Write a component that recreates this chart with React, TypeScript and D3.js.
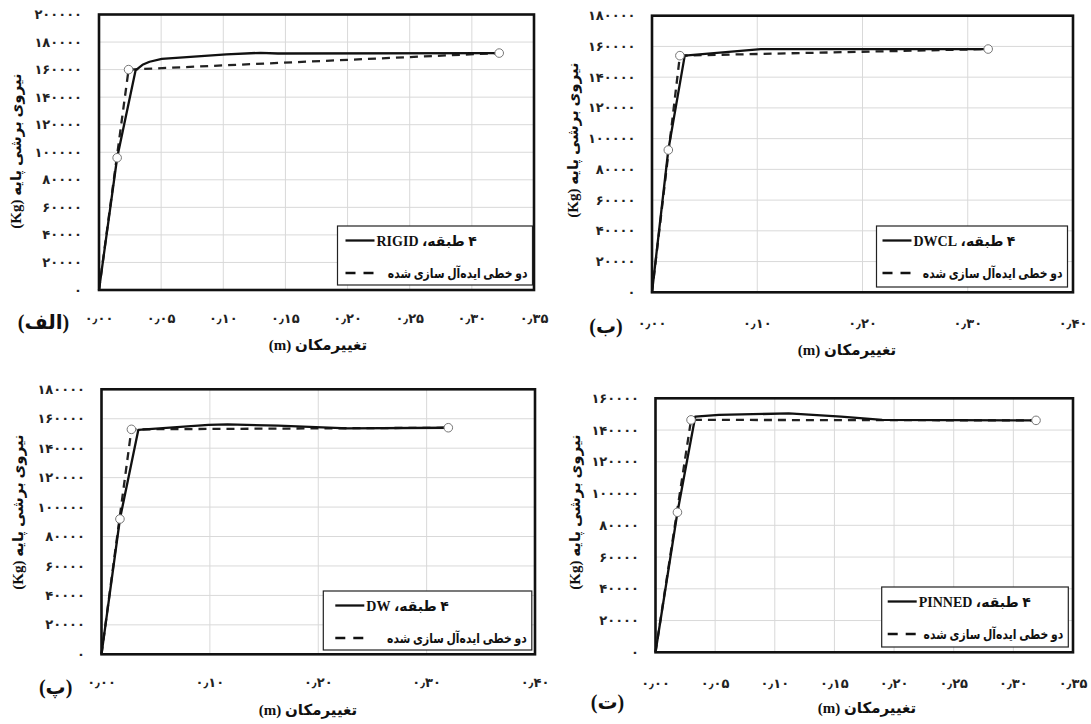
import React from "react";
import * as d3 from "d3";

// ---------- DATA ----------
const rigidCurveX = [0, 0.0146, 0.0294, 0.035, 0.0407, 0.0505, 0.1024, 0.13, 0.144, 0.322];
const rigidCurveY = [0, 96000, 159400, 163500, 165700, 167800, 171000, 172200, 171700, 172000];
const rigidBilinX = [0, 0.0238, 0.322];
const rigidBilinY = [0, 160000, 172000];
const rigidMarkX = [0.0146, 0.0238, 0.322];
const rigidMarkY = [96000, 160000, 172000];

const dwclCurveX = [0, 0.0155, 0.0311, 0.1034, 0.153, 0.3194];
const dwclCurveY = [0, 92600, 154000, 158300, 158300, 158300];
const dwclBilinX = [0, 0.0265, 0.3194];
const dwclBilinY = [0, 154000, 158300];
const dwclMarkX = [0.0155, 0.0265, 0.3194];
const dwclMarkY = [92600, 154000, 158300];

const dwCurveX = [0, 0.017, 0.034, 0.0988, 0.1163, 0.163, 0.227, 0.32];
const dwCurveY = [0, 91900, 152500, 155800, 156200, 155300, 153500, 153900];
const dwBilinX = [0, 0.0276, 0.32];
const dwBilinY = [0, 152800, 153900];
const dwMarkX = [0.017, 0.0276, 0.32];
const dwMarkY = [91900, 152800, 153900];

const pinCurveX = [0, 0.0184, 0.0333, 0.0532, 0.1117, 0.1556, 0.19, 0.319];
const pinCurveY = [0, 88200, 148400, 149500, 150500, 148400, 146400, 146100];
const pinBilinX = [0, 0.0298, 0.319];
const pinBilinY = [0, 146400, 146100];
const pinMarkX = [0.0184, 0.0298, 0.319];
const pinMarkY = [88200, 146400, 146100];

const xTicksA = [0, 0.05, 0.1, 0.15, 0.2, 0.25, 0.3, 0.35];
const xTicksB = [0, 0.1, 0.2, 0.3, 0.4];
const yTicks200 = [0, 20000, 40000, 60000, 80000, 100000, 120000, 140000, 160000, 180000, 200000];
const yTicks180 = [0, 20000, 40000, 60000, 80000, 100000, 120000, 140000, 160000, 180000];
const yTicks160 = [0, 20000, 40000, 60000, 80000, 100000, 120000, 140000, 160000];

const panelLabels = ["(الف)", "(ب)", "(پ)", "(ت)"];
const seriesNames = ["۴ طبقه، RIGID", "۴ طبقه، DWCL", "۴ طبقه، DW", "۴ طبقه، PINNED"];
const bilinName = "دو خطی ایده‌آل سازی شده";
const xTitle = "تغییرمکان (m)";
const yTitle = "نیروی برشی پایه (Kg)";

// ---------- HELPERS ----------
const fa = "۰۱۲۳۴۵۶۷۸۹";
const toFa = (s: string) => s.replace(/[0-9]/g, (d) => fa[+d]).replace(/\./g, "٫");
const fmtX = (v: number) => toFa(v.toFixed(2));
const fmtY = (v: number) => toFa(String(v));
const zip = (xs: number[], ys: number[]) => xs.map((x, i) => [x, ys[i]] as [number, number]);

const FONT = "'Liberation Serif', 'DejaVu Sans', serif";

type PanelCfg = {
  left: number; top: number; right: number; bottom: number;
  xMax: number; yMax: number; xTicks: number[]; yTicks: number[];
  curve: [number, number][]; bilin: [number, number][]; marks: [number, number][];
  name: string; label: string;
  legend: { x: number; y: number; w: number; h: number; pad: number };
  labelPos: { x: number; y: number };
  xTitlePos: { x: number; y: number };
  yTitlePos: { x: number; y: number };
  tickY: number; yLabelGap: number;
};

const panels: PanelCfg[] = [
  {
    left: 99, top: 14.5, right: 534, bottom: 290, xMax: 0.35, yMax: 200000,
    xTicks: xTicksA, yTicks: yTicks200,
    curve: zip(rigidCurveX, rigidCurveY), bilin: zip(rigidBilinX, rigidBilinY), marks: zip(rigidMarkX, rigidMarkY),
    name: seriesNames[0], label: panelLabels[0],
    legend: { x: 337.5, y: 226, w: 195, h: 59, pad: 8 },
    labelPos: { x: 43.5, y: 329 }, xTitlePos: { x: 318, y: 350 }, yTitlePos: { x: 16, y: 151 }, tickY: 323, yLabelGap: 17,
  },
  {
    left: 652, top: 15.7, right: 1073, bottom: 292.3, xMax: 0.4, yMax: 180000,
    xTicks: xTicksB, yTicks: yTicks180,
    curve: zip(dwclCurveX, dwclCurveY), bilin: zip(dwclBilinX, dwclBilinY), marks: zip(dwclMarkX, dwclMarkY),
    name: seriesNames[1], label: panelLabels[1],
    legend: { x: 876.5, y: 226, w: 191, h: 61, pad: 6 },
    labelPos: { x: 606, y: 333 }, xTitlePos: { x: 847, y: 355 }, yTitlePos: { x: 573, y: 140 }, tickY: 328, yLabelGap: 16.5,
  },
  {
    left: 101.5, top: 389.3, right: 535, bottom: 654.3, xMax: 0.4, yMax: 180000,
    xTicks: xTicksB, yTicks: yTicks180,
    curve: zip(dwCurveX, dwCurveY), bilin: zip(dwBilinX, dwBilinY), marks: zip(dwMarkX, dwMarkY),
    name: seriesNames[2], label: panelLabels[2],
    legend: { x: 323.3, y: 591, w: 208.5, h: 59, pad: 12 },
    labelPos: { x: 55.6, y: 694 }, xTitlePos: { x: 308, y: 715 }, yTitlePos: { x: 17.4, y: 512 }, tickY: 687, yLabelGap: 16.5,
  },
  {
    left: 655.5, top: 398.3, right: 1073, bottom: 652.3, xMax: 0.35, yMax: 160000,
    xTicks: xTicksA, yTicks: yTicks160,
    curve: zip(pinCurveX, pinCurveY), bilin: zip(pinBilinX, pinBilinY), marks: zip(pinMarkX, pinMarkY),
    name: seriesNames[3], label: panelLabels[3],
    legend: { x: 881.7, y: 587, w: 186.6, h: 60, pad: 6 },
    labelPos: { x: 607.5, y: 709 }, xTitlePos: { x: 867, y: 713 }, yTitlePos: { x: 574.6, y: 512 }, tickY: 688, yLabelGap: 16.5,
  },
];

function Panel({ p }: { p: PanelCfg }) {
  const x = d3.scaleLinear().domain([0, p.xMax]).range([p.left, p.right]);
  const y = d3.scaleLinear().domain([0, p.yMax]).range([p.bottom, p.top]);
  const line = d3.line<[number, number]>().x((d) => x(d[0])).y((d) => y(d[1]));
  const L = p.legend;
  return (
    <g>
      {p.yTicks.map((t) => (
        <line key={"gy" + t} x1={p.left} x2={p.right} y1={y(t)} y2={y(t)} stroke="#d9d9d9" strokeWidth={1} />
      ))}
      {p.xTicks.filter((t) => t <= p.xMax).map((t) => (
        <line key={"gx" + t} x1={x(t)} x2={x(t)} y1={p.top} y2={p.bottom} stroke="#d9d9d9" strokeWidth={1} />
      ))}
      <path d={line(p.bilin) || ""} fill="none" stroke="#222" strokeWidth={2.3} strokeDasharray="8,6" />
      <path d={line(p.curve) || ""} fill="none" stroke="#111" strokeWidth={2.3} strokeLinejoin="round" />
      {p.marks.map((m, i) => (
        <circle key={"m" + i} cx={x(m[0])} cy={y(m[1])} r={4.3} fill="#fff" stroke="#777" strokeWidth={1} />
      ))}
      <rect x={p.left} y={p.top} width={p.right - p.left} height={p.bottom - p.top} fill="none" stroke="#111" strokeWidth={2.6} />
      {p.yTicks.map((t) => (
        <text key={"ty" + t} x={p.left - p.yLabelGap} y={y(t)} dy="0.35em" textAnchor="end" fontSize={13} fontWeight="bold" fill="#222" fontFamily={FONT}>
          {fmtY(t)}
        </text>
      ))}
      {p.xTicks.map((t) => (
        <text key={"tx" + t} x={x(t)} y={p.tickY} textAnchor="middle" fontSize={13} fontWeight="bold" fill="#222" fontFamily={FONT}>
          {fmtX(t)}
        </text>
      ))}
      <rect x={L.x} y={L.y} width={L.w} height={L.h} fill="#fff" stroke="#222" strokeWidth={1.2} />
      <line x1={L.x + L.pad} x2={L.x + L.pad + 29} y1={L.y + 14.5} y2={L.y + 14.5} stroke="#111" strokeWidth={2.3} />
      <text x={L.x + L.pad + 31} y={L.y + 19.5} direction="rtl" textAnchor="end" fontSize={14} fontWeight="bold" fill="#111" fontFamily={FONT}>
        {p.name}
      </text>
      <line x1={L.x + L.pad} x2={L.x + L.pad + 28} y1={L.y + 47} y2={L.y + 47} stroke="#111" strokeWidth={2.3} strokeDasharray="10,8" />
      <text transform={`translate(${L.x + L.w - 5},${L.y + 52}) scale(0.8,1)`} direction="rtl" textAnchor="start" fontSize={13.5} fontWeight="bold" fill="#111" fontFamily={FONT}>
        {bilinName}
      </text>
      <text x={p.xTitlePos.x} y={p.xTitlePos.y} direction="rtl" textAnchor="middle" fontSize={15} fontWeight="bold" fill="#111" fontFamily={FONT}>
        {xTitle}
      </text>
      <text transform={`translate(${p.yTitlePos.x},${p.yTitlePos.y}) rotate(-90)`} dy="0.35em" direction="rtl" textAnchor="middle" fontSize={15} fontWeight="bold" fill="#111" fontFamily={FONT}>
        {yTitle}
      </text>
      <text x={p.labelPos.x} y={p.labelPos.y} direction="rtl" textAnchor="middle" fontSize={20} fontWeight="bold" fill="#111" fontFamily={FONT}>
        {p.label}
      </text>
    </g>
  );
}

export default function App() {
  return (
    <svg width={1091} height={724} style={{ position: "absolute", left: 0, top: 0, background: "#fff" }}>
      <rect x={0} y={0} width={1091} height={724} fill="#fff" />
      {panels.map((p, i) => (
        <Panel key={i} p={p} />
      ))}
    </svg>
  );
}
